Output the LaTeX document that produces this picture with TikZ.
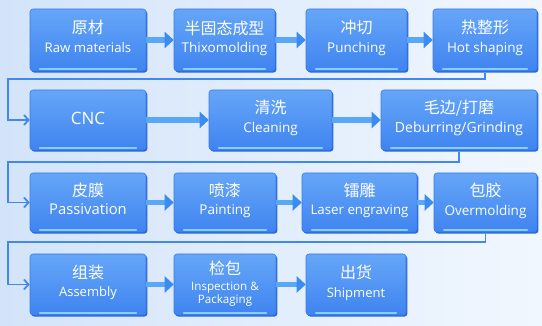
\documentclass[tikz,border=0pt]{standalone}
\usepackage{fontspec}
\setmainfont{Open Sans}
\newfontfamily\cjk{Noto Sans CJK SC}
\usetikzlibrary{arrows.meta,shadows}
\definecolor{bgL}{HTML}{D3E4FA}
\definecolor{bgR}{HTML}{F1F7FE}
\definecolor{boxT}{HTML}{66A6F8}
\definecolor{boxB}{HTML}{3F84F0}
\definecolor{boxD}{HTML}{3A7BEA}
\definecolor{boxE}{HTML}{2A66DC}
\definecolor{hlC}{HTML}{8ED8FF}
\definecolor{shaftC}{HTML}{58A8F7}
\definecolor{headC}{HTML}{3A8CF2}
\definecolor{retC}{HTML}{4288EF}
\newcommand{\lab}[3][13.5]{{\cjk\fontsize{16}{16}\selectfont #2}\\{\fontsize{#1}{15}\selectfont #3}}
\begin{document}
\begin{tikzpicture}[x=1pt,y=-1pt,
  box/.style={rounded corners=3pt, top color=boxT, bottom color=boxB, draw=boxD,
    line width=0.6pt, text=white, align=center, inner sep=0pt,
    font=\fontsize{13.5}{18.5}\selectfont, text depth=7pt,
    drop shadow={shadow xshift=1.4pt,shadow yshift=-1.6pt,fill=boxE,opacity=1}},
  flow/.style={draw=shaftC, line width=5.5pt,
    -{Triangle[length=9pt,width=16pt,color=headC]}},
  ret/.style={draw=retC, line width=1.8pt, line join=miter,
    -{Straight Barb[length=4.5pt,width=10pt]}},
  hl/.style={draw=hlC, line width=1.6pt, line cap=round, opacity=0.9}]
\shade[left color=bgL,right color=bgR] (0,0) rectangle (542,326);
\useasboundingbox (0,0) rectangle (542,326);
% row 1
\node[box, minimum width=116pt, minimum height=62pt] (raw) at (88,40) {\lab[13.2]{原材}{Raw materials}};
\node[box, minimum width=101pt, minimum height=62pt] (thix) at (224.5,40) {\lab{半固态成型}{Thixomolding}};
\node[box, minimum width=101pt, minimum height=62pt] (punch) at (356.5,40) {\lab{冲切}{Punching}};
\node[box, minimum width=104pt, minimum height=62pt] (hot) at (485,40) {\lab{热整形}{Hot shaping}};
% row 2
\node[box, minimum width=116pt, minimum height=60pt, text depth=4pt, font=\fontsize{17}{20}\selectfont] (cnc) at (88,120) {CNC};
\node[box, minimum width=123pt, minimum height=60pt] (clean) at (270.5,120) {\lab{清洗}{Cleaning}};
\node[box, minimum width=156pt, minimum height=60pt] (deb) at (459,120) {\lab[14]{毛边/打磨}{Deburring/Grinding}};
% row 3
\node[box, minimum width=116pt, minimum height=59pt] (pass) at (88,202.5) {\lab[14.8]{皮膜}{Passivation}};
\node[box, minimum width=102pt, minimum height=59pt] (paint) at (225,202.5) {\lab{喷漆}{Painting}};
\node[box, minimum width=115pt, minimum height=59pt] (laser) at (359.5,202.5) {\lab[13.3]{镭雕}{Laser engraving}};
\node[box, minimum width=103pt, minimum height=59pt] (over) at (485.5,202.5) {\lab{包胶}{Overmolding}};
% row 4
\node[box, minimum width=116pt, minimum height=61pt] (asm) at (88,284.5) {\lab[13]{组装}{Assembly}};
\node[box, minimum width=102pt, minimum height=61pt, text depth=4pt, font=\fontsize{11.6}{13.5}\selectfont] (insp) at (225,284.5) {{\cjk\fontsize{16}{16}\selectfont 检包}\\[2pt]Inspection \&\\Packaging};
\node[box, minimum width=100pt, minimum height=61pt] (ship) at (356,284.5) {\lab[13]{出货}{Shipment}};
% bottom highlights
\foreach \n in {raw,thix,punch,hot,cnc,clean,deb,pass,paint,laser,over,asm,insp,ship}{
  \draw[hl] ([xshift=10pt,yshift=2.2pt]\n.south west) -- ([xshift=-10pt,yshift=2.2pt]\n.south east);
}
% flow arrows
\draw[flow] (raw) -- (thix);
\draw[flow] (thix) -- (punch);
\draw[flow] (punch) -- (hot);
\draw[flow] (cnc) -- (clean);
\draw[flow] (clean) -- (deb);
\draw[flow] (pass) -- (paint);
\draw[flow] (paint) -- (laser);
\draw[flow] (laser) -- (over);
\draw[flow] (asm) -- (insp);
\draw[flow] (insp) -- (ship);
% return connectors
\coordinate (r1) at (8,79);
\coordinate (r2) at (8,162);
\coordinate (r3) at (8,242);
\draw[ret] ([yshift=-1.6pt]hot.south) |- (r1) |- (cnc.west);
\draw[ret] ([yshift=-1.6pt]deb.south) |- (r2) |- (pass.west);
\draw[ret] ([yshift=-1.6pt]over.south) |- (r3) |- (asm.west);
\end{tikzpicture}
\end{document}
